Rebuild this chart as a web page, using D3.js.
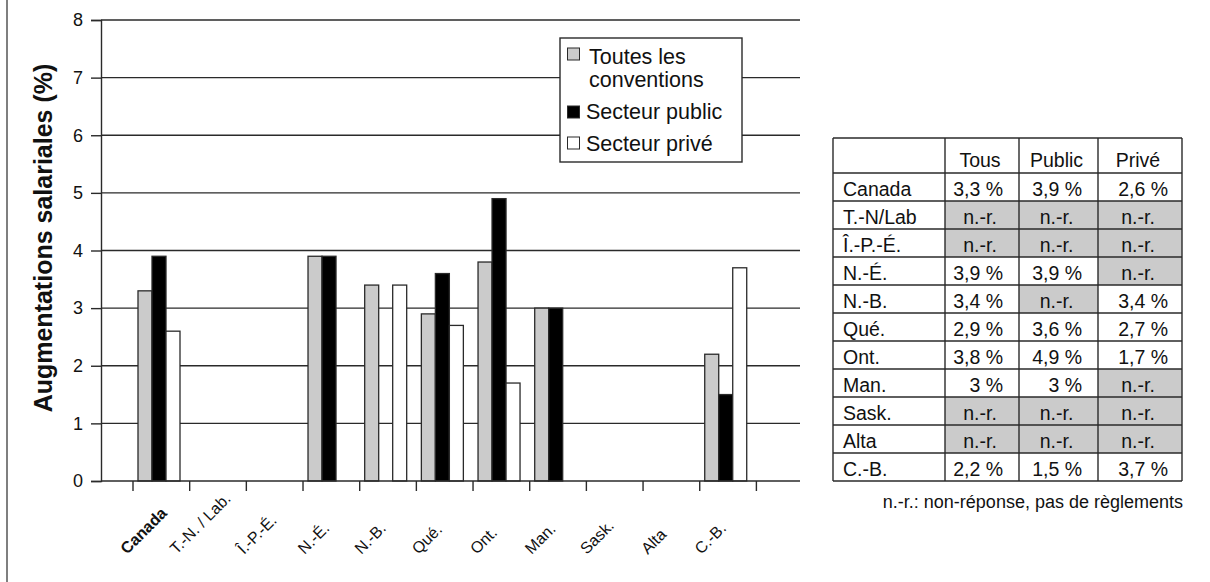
<!DOCTYPE html>
<html lang="fr">
<head>
<meta charset="utf-8">
<script src="https://cdn.jsdelivr.net/npm/d3@7"></script>
<style>
  html, body { margin: 0; padding: 0; background: #fff; }
  svg { display: block; font-family: "Liberation Sans", Arial, Helvetica, sans-serif; }
</style>
</head>
<body>
<svg id="chart" width="1210" height="582"></svg>
<script>
// Catégories (axe des x) et libellés du tableau
const categories = ["Canada", "T.-N. / Lab.", "Î.-P.-É.", "N.-É.", "N.-B.", "Qué.", "Ont.", "Man.", "Sask.", "Alta", "C.-B."];
const tableRows  = ["Canada", "T.-N/Lab", "Î.-P.-É.", "N.-É.", "N.-B.", "Qué.", "Ont.", "Man.", "Sask.", "Alta", "C.-B."];

// Augmentations salariales (%) — null = non-réponse
const tous    = [3.3, null, null, 3.9, 3.4, 2.9, 3.8, 3.0, null, null, 2.2];
const public_ = [3.9, null, null, 3.9, null, 3.6, 4.9, 3.0, null, null, 1.5];
const prive   = [2.6, null, 0,    null, 3.4, 2.7, 1.7, null, null, null, 3.7];

const seriesNames = ["Toutes les conventions", "Secteur public", "Secteur privé"];
const seriesFill  = ["#cbcbcb", "#000000", "#ffffff"];
const tableHeaders = ["Tous", "Public", "Privé"];
const yTicks = [0, 1, 2, 3, 4, 5, 6, 7, 8];

const series = [tous, public_, prive];
const svg = d3.select("#chart");
const ink = "#2a2a2a";

// Trait vertical du cadre à gauche
svg.append("line")
  .attr("x1", 7).attr("x2", 7).attr("y1", 0).attr("y2", 582)
  .attr("stroke", "#555").attr("stroke-width", 1.5);

// Échelles
const plotLeft = 101, plotRight = 800;
const y = d3.scaleLinear().domain([0, 8]).range([481, 20]);
const x = d3.scaleBand().domain(categories).range([133, 756.4]).paddingInner(0).paddingOuter(0);
const xs = d3.scaleBand().domain([0, 1, 2]).range([5, 47]);

// Quadrillage horizontal
svg.append("g").selectAll("line")
  .data(yTicks.filter(t => t > 0))
  .join("line")
  .attr("x1", plotLeft).attr("x2", plotRight)
  .attr("y1", d => y(d)).attr("y2", d => y(d))
  .attr("stroke", ink).attr("stroke-width", 1.4);

// Axe des y
const yAxis = svg.append("g")
  .attr("transform", `translate(${plotLeft},0)`)
  .call(d3.axisLeft(y).tickValues(yTicks).tickSize(10).tickPadding(8).tickFormat(d3.format("d")));
yAxis.select(".domain").attr("stroke", ink).attr("stroke-width", 1.4);
yAxis.selectAll(".tick line").attr("stroke", ink).attr("stroke-width", 1.4);
yAxis.selectAll(".tick text")
  .attr("font-size", 18).attr("fill", "#111")
  .attr("font-family", "Liberation Sans, Arial, sans-serif");

// Titre de l'axe des y
svg.append("text")
  .attr("transform", "translate(52,238) rotate(-90)")
  .attr("text-anchor", "middle")
  .attr("font-size", 25).attr("font-weight", "bold").attr("fill", "#111")
  .text("Augmentations salariales (%)");

// Barres
const groups = svg.append("g").selectAll("g")
  .data(categories)
  .join("g")
  .attr("transform", d => `translate(${x(d)},0)`);

groups.selectAll("rect")
  .data((d, i) => series.map((s, k) => ({ k, v: s[i] })).filter(e => e.v !== null))
  .join("rect")
  .attr("x", d => xs(d.k))
  .attr("width", xs.bandwidth())
  .attr("y", d => y(d.v))
  .attr("height", d => y(0) - y(d.v))
  .attr("fill", d => seriesFill[d.k])
  .attr("stroke", ink).attr("stroke-width", 1.3);

// Axe des x : ligne de base et graduations entre catégories
svg.append("line")
  .attr("x1", plotLeft).attr("x2", plotRight)
  .attr("y1", y(0)).attr("y2", y(0))
  .attr("stroke", ink).attr("stroke-width", 1.4);

const boundaries = categories.map(c => x(c)).concat([x(categories[categories.length - 1]) + x.bandwidth()]);
svg.append("g").selectAll("line")
  .data(boundaries)
  .join("line")
  .attr("x1", d => d).attr("x2", d => d)
  .attr("y1", y(0)).attr("y2", y(0) + 10)
  .attr("stroke", ink).attr("stroke-width", 1.4);

// Libellés des catégories, inclinés à 45° (matrice de rotation explicite)
const labelFs = 16;
const c45 = Math.SQRT1_2;
const labelG = svg.append("g");
categories.forEach((c, i) => {
  const t = labelG.append("text")
    .attr("x", 0).attr("y", 0)
    .attr("font-size", labelFs)
    .attr("font-weight", i === 0 ? "bold" : "normal")
    .attr("fill", "#111")
    .text(c);
  const L = t.node().getComputedTextLength();
  const capH = labelFs * 0.72;
  const cx = x(c) + x.bandwidth() / 2 - 18;
  const px = cx - c45 * (L - capH) / 2;
  t.attr("transform", `matrix(${c45},${-c45},${c45},${c45},${px.toFixed(2)},555)`);
});

// Légende
const legend = svg.append("g");
legend.append("rect")
  .attr("x", 560).attr("y", 38).attr("width", 182).attr("height", 124)
  .attr("fill", "#fff").attr("stroke", ink).attr("stroke-width", 1.4);
const legendItems = [
  { k: 0, sq: 48, lines: ["Toutes les", "conventions"], tx: 589, ty: 64 },
  { k: 1, sq: 106, lines: ["Secteur public"], tx: 586, ty: 119 },
  { k: 2, sq: 137, lines: ["Secteur privé"], tx: 586, ty: 151 }
];
legendItems.forEach(it => {
  legend.append("rect")
    .attr("x", 567.5).attr("y", it.sq).attr("width", 12).attr("height", 12)
    .attr("fill", seriesFill[it.k]).attr("stroke", ink).attr("stroke-width", 1);
  const t = legend.append("text")
    .attr("x", it.tx).attr("y", it.ty)
    .attr("font-size", 21.5).attr("fill", "#111");
  it.lines.forEach((ln, j) => {
    t.append("tspan").attr("x", it.tx).attr("dy", j === 0 ? 0 : 23).text(ln);
  });
});

// Tableau des valeurs
const fmt = v => (v === null || v === 0) ? null
  : (Number.isInteger(v) ? String(v) : v.toFixed(1).replace(".", ",")) + " %";
const colX = [833, 945, 1019, 1098, 1182];
const rowTop = 138, headH = 35, rowH = 28;
const table = svg.append("g");
const tfs = 19.5;

tableRows.forEach((r, i) => {
  const top = rowTop + headH + i * rowH;
  series.forEach((s, k) => {
    const txt = fmt(s[i]);
    const x0 = colX[k + 1], x1 = colX[k + 2];
    if (txt === null) {
      table.append("rect")
        .attr("x", x0).attr("y", top).attr("width", x1 - x0).attr("height", rowH)
        .attr("fill", "#cbcbcb");
      table.append("text")
        .attr("x", (x0 + x1) / 2 - 2).attr("y", top + rowH - 5)
        .attr("text-anchor", "middle").attr("font-size", tfs).attr("fill", "#111")
        .text("n.-r.");
    } else {
      table.append("text")
        .attr("x", x1 - (k === 2 ? 14 : 16)).attr("y", top + rowH - 5)
        .attr("text-anchor", "end").attr("font-size", tfs).attr("fill", "#111")
        .text(txt);
    }
  });
  table.append("text")
    .attr("x", colX[0] + 10).attr("y", top + rowH - 5)
    .attr("font-size", tfs).attr("fill", "#111")
    .text(r);
});

tableHeaders.forEach((h, k) => {
  table.append("text")
    .attr("x", (colX[k + 1] + colX[k + 2]) / 2 - 2).attr("y", rowTop + headH - 6)
    .attr("text-anchor", "middle").attr("font-size", tfs).attr("fill", "#111")
    .text(h);
});

// Lignes du tableau
const tableBottom = rowTop + headH + tableRows.length * rowH;
const hLines = [rowTop].concat(d3.range(tableRows.length + 1).map(i => rowTop + headH + i * rowH));
table.append("g").selectAll("line")
  .data(hLines).join("line")
  .attr("x1", colX[0]).attr("x2", colX[4])
  .attr("y1", d => d).attr("y2", d => d)
  .attr("stroke", ink).attr("stroke-width", 1.4);
table.append("g").selectAll("line")
  .data(colX).join("line")
  .attr("x1", d => d).attr("x2", d => d)
  .attr("y1", rowTop).attr("y2", tableBottom)
  .attr("stroke", ink).attr("stroke-width", 1.4);

// Note
svg.append("text")
  .attr("x", 1183).attr("y", 508)
  .attr("text-anchor", "end").attr("font-size", 18).attr("fill", "#111")
  .text("n.-r.: non-réponse, pas de règlements");
</script>
</body>
</html>
